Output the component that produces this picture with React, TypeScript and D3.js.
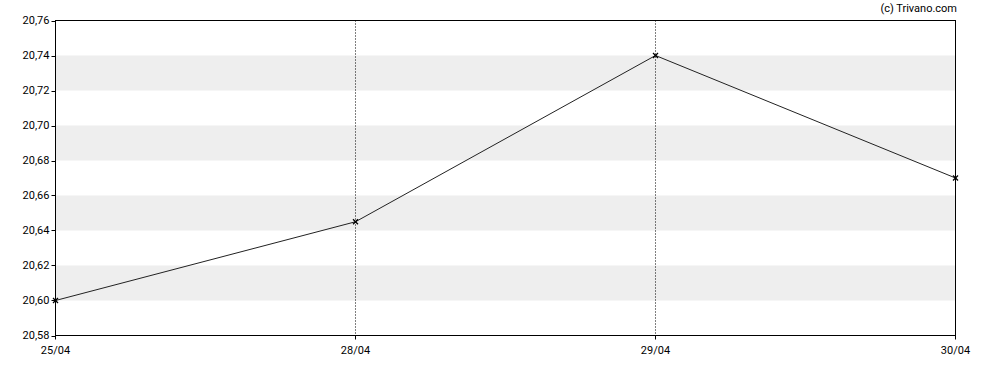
import React from "react";
import * as d3 from "d3";

const categories = ["25/04", "28/04", "29/04", "30/04"];
const values = [20.6, 20.645, 20.74, 20.67];
const yTicks = [20.58, 20.6, 20.62, 20.64, 20.66, 20.68, 20.7, 20.72, 20.74, 20.76];
const bands: [number, number][] = [[20.6, 20.62], [20.64, 20.66], [20.68, 20.7], [20.72, 20.74]];

export default function App() {
  const W = 988, H = 370;
  const left = 55.5, right = 955.5, top = 20.5, bottom = 335.5;
  const x = d3.scalePoint<string>().domain(categories).range([left, right]);
  const y = d3.scaleLinear().domain([20.58, 20.76]).range([bottom, top]);
  const line = d3.line<number>().x((_, i) => x(categories[i])!).y((d) => y(d));
  const fmt = (v: number) => v.toFixed(2).replace(".", ",");
  const font = "Roboto, Arial, sans-serif";
  return (
    <svg width={W} height={H} style={{ position: "absolute", left: 0, top: 0 }} fontFamily={font}>
      <rect x={0} y={0} width={W} height={H} fill="#fff" />
      {bands.map(([a, b], i) => (
        <rect key={i} x={left} width={right - left} y={y(b)} height={y(a) - y(b)} fill="#eeeeee" />
      ))}
      {categories.slice(1, -1).map((c) => (
        <line key={c} x1={x(c)} x2={x(c)} y1={top} y2={bottom} stroke="#000" strokeDasharray="1,2" strokeWidth={1} />
      ))}
      <rect x={left} y={top} width={right - left} height={bottom - top} fill="none" stroke="#000" strokeWidth={1} />
      {yTicks.map((t) => (
        <g key={t}>
          <line x1={left - 4} x2={left} y1={Math.round(y(t)) + 0.5} y2={Math.round(y(t)) + 0.5} stroke="#000" />
          <text x={left - 6} y={y(t)} dy="0.35em" textAnchor="end" fontSize={11} fill="#000">{fmt(t)}</text>
        </g>
      ))}
      {categories.map((c) => (
        <g key={c}>
          <line x1={x(c)} x2={x(c)} y1={bottom} y2={bottom + 4} stroke="#000" />
          <text x={x(c)} y={bottom + 18} textAnchor="middle" fontSize={11} fill="#000">{c}</text>
        </g>
      ))}
      <path d={line(values) || ""} fill="none" stroke="#222" strokeWidth={1} />
      {values.map((v, i) => {
        const cx = x(categories[i])!, cy = y(v);
        return (
          <g key={i} stroke="#000" strokeWidth={1.2}>
            <line x1={cx - 2.5} x2={cx + 2.5} y1={cy - 2.5} y2={cy + 2.5} />
            <line x1={cx - 2.5} x2={cx + 2.5} y1={cy + 2.5} y2={cy - 2.5} />
          </g>
        );
      })}
      <text x={957} y={12} textAnchor="end" fontSize={11} fill="#000">(c) Trivano.com</text>
    </svg>
  );
}
